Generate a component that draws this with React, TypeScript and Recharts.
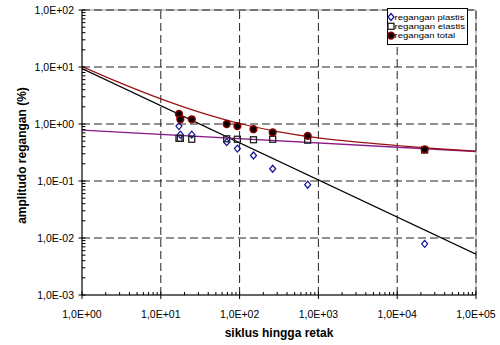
import React from 'react'
import { ComposedChart, Scatter, Line, XAxis, YAxis, ReferenceLine, ReferenceArea } from 'recharts'

// data
const siklus = [17, 17.7, 24.7, 68.6, 93.7, 150, 263, 731, 22300]
const regPlastis = [0.92, 0.65, 0.65, 0.48, 0.37, 0.28, 0.164, 0.086, 0.0079]
const regElastis = [0.56, 0.56, 0.54, 0.55, 0.54, 0.53, 0.54, 0.52, 0.35]
const regTotal = [1.5, 1.21, 1.21, 1.0, 0.92, 0.81, 0.71, 0.62, 0.36]

// trend lines
const trendX = [1, 100000]
const trendPlastis = [9.4, 0.0052]
const trendElastis = [0.78, 0.33]
const trendTotalX = [1, 3.16, 10, 31.6, 100, 316, 1000, 3162, 10000, 31623, 100000]
const trendTotal = [10.2, 5.16, 2.76, 1.6, 1.02, 0.73, 0.57, 0.48, 0.42, 0.37, 0.335]

const xMajor = [1, 10, 100, 1000, 10000, 100000]
const yMajor = [0.001, 0.01, 0.1, 1, 10, 100]

const minors = (decades: number[]) =>
  decades.slice(0, -1).flatMap((d) => [2, 3, 4, 5, 6, 7, 8, 9].map((m) => +(d * m).toPrecision(3)))
const xTicks = [...xMajor, ...minors(xMajor)].sort((a, b) => a - b)
const yTicks = [...yMajor, ...minors(yMajor)].sort((a, b) => a - b)

const FONT = '"Liberation Sans", Arial, sans-serif'

const toPts = (xs: number[], ys: number[]) => xs.map((x, i) => ({ x, y: ys[i] }))

const isMajor = (v: number) => Math.abs(Math.log10(v) - Math.round(Math.log10(v))) < 1e-6

function fmt(v: number) {
  const e = Math.round(Math.log10(v))
  return `1,0E${e < 0 ? '-' : '+'}${String(Math.abs(e)).padStart(2, '0')}`
}

function XTick({ x, y, payload }: any) {
  const v = payload.value
  if (!isMajor(v)) return <line x1={x} x2={x} y1={y - 3} y2={y} stroke="#000" />
  return (
    <g>
      <line x1={x} x2={x} y1={y - 3.5} y2={y + 4} stroke="#000" />
      <text x={x} y={y + 23} textAnchor="middle" fontSize={10.5} fontFamily={FONT} fill="#000">
        {fmt(v)}
      </text>
    </g>
  )
}

function YTick({ x, y, payload }: any) {
  const v = payload.value
  if (!isMajor(v)) return <line x1={x} x2={x + 3.5} y1={y} y2={y} stroke="#000" />
  return (
    <g>
      <line x1={x - 3.5} x2={x + 3.5} y1={y} y2={y} stroke="#000" />
      <text x={x - 8} y={y + 4} textAnchor="end" fontSize={10.5} fontFamily={FONT} fill="#000">
        {fmt(v)}
      </text>
    </g>
  )
}

const Diamond = ({ cx, cy }: any) => (
  <path
    d={`M${cx},${cy - 3.5}L${cx + 3},${cy}L${cx},${cy + 3.5}L${cx - 3},${cy}Z`}
    fill="none"
    stroke="#10109a"
    strokeWidth={1.2}
  />
)
const Square = ({ cx, cy }: any) => (
  <rect x={cx - 3} y={cy - 3} width={6} height={6} fill="none" stroke="#222" strokeWidth={1.3} />
)
const Dot = ({ cx, cy }: any) => <circle cx={cx} cy={cy} r={3.4} fill="#000" stroke="#8b0000" strokeWidth={1.5} />

function LegendBox() {
  return (
    <svg width={82} height={38} style={{ position: 'absolute', left: 386.5, top: 8, overflow: 'visible' }}>
      <rect x={0.5} y={0.5} width={80} height={36} fill="#fff" stroke="#000" />
      <Diamond cx={4} cy={9} />
      <Square cx={4} cy={18.3} />
      <Dot cx={4} cy={27.6} />
      <g fontFamily={FONT} fontSize={8} fill="#000">
        <text x={7.5} y={11.8} textLength={70} lengthAdjust="spacingAndGlyphs">regangan plastis</text>
        <text x={7.5} y={21.1} textLength={70.5} lengthAdjust="spacingAndGlyphs">regangan elastis</text>
        <text x={7.5} y={30.4} textLength={60.5} lengthAdjust="spacingAndGlyphs">regangan total</text>
      </g>
    </svg>
  )
}

export default function App() {
  return (
    <div style={{ position: 'absolute', left: 0, top: 0, width: 500, height: 345, background: '#fff' }}>
      <ComposedChart width={500} height={345} margin={{ top: 10, right: 24, bottom: 0, left: 0 }}>
        <ReferenceArea x1={1} x2={100000} y1={0.001} y2={100} fill="none" stroke="#999" />
        {xMajor.slice(1).map((v) => (
          <ReferenceLine key={'x' + v} x={v} stroke="#222" strokeDasharray="8 4" />
        ))}
        {yMajor.slice(1).map((v) => (
          <ReferenceLine key={'y' + v} y={v} stroke="#222" strokeDasharray="8 4" />
        ))}
        <XAxis
          dataKey="x"
          type="number"
          scale="log"
          domain={[1, 100000]}
          allowDataOverflow
          ticks={xTicks}
          interval={0}
          tick={<XTick />}
          tickSize={0}
          tickMargin={0}
          tickLine={false}
          axisLine={{ stroke: '#000' }}
          height={50}
          label={{
            content: ({ viewBox }: any) => (
              <text
                x={viewBox.x + viewBox.width / 2}
                y={viewBox.y + 42}
                textAnchor="middle"
                fontSize={12}
                fontWeight="bold"
                fontFamily={FONT}
              >
                siklus hingga retak
              </text>
            ),
          }}
        />
        <YAxis
          dataKey="y"
          type="number"
          scale="log"
          domain={[0.001, 100]}
          allowDataOverflow
          ticks={yTicks}
          interval={0}
          tick={<YTick />}
          tickSize={0}
          tickMargin={0}
          tickLine={false}
          axisLine={{ stroke: '#000' }}
          width={82}
          label={{
            content: ({ viewBox }: any) => {
              const cx = 26
              const cy = viewBox.y + viewBox.height / 2 + 3
              return (
                <text
                  x={cx}
                  y={cy}
                  transform={`rotate(-90 ${cx} ${cy})`}
                  textAnchor="middle"
                  fontSize={12}
                  fontWeight="bold"
                  fontFamily={FONT}
                >
                  amplitudo regangan (%)
                </text>
              )
            },
          }}
        />
        <Scatter data={toPts(siklus, regPlastis)} shape={<Diamond />} isAnimationActive={false} />
        <Scatter data={toPts(siklus, regElastis)} shape={<Square />} isAnimationActive={false} />
        <Scatter data={toPts(siklus, regTotal)} shape={<Dot />} isAnimationActive={false} />
        <Line data={toPts(trendX, trendPlastis)} dataKey="y" type="linear" stroke="#000" strokeWidth={1.2} dot={false} isAnimationActive={false} />
        <Line data={toPts(trendX, trendElastis)} dataKey="y" type="linear" stroke="#8a1a8a" strokeWidth={1.4} dot={false} isAnimationActive={false} />
        <Line data={toPts(trendTotalX, trendTotal)} dataKey="y" type="monotone" stroke="#9a1010" strokeWidth={1.2} dot={false} isAnimationActive={false} />
      </ComposedChart>
      <LegendBox />
    </div>
  )
}
